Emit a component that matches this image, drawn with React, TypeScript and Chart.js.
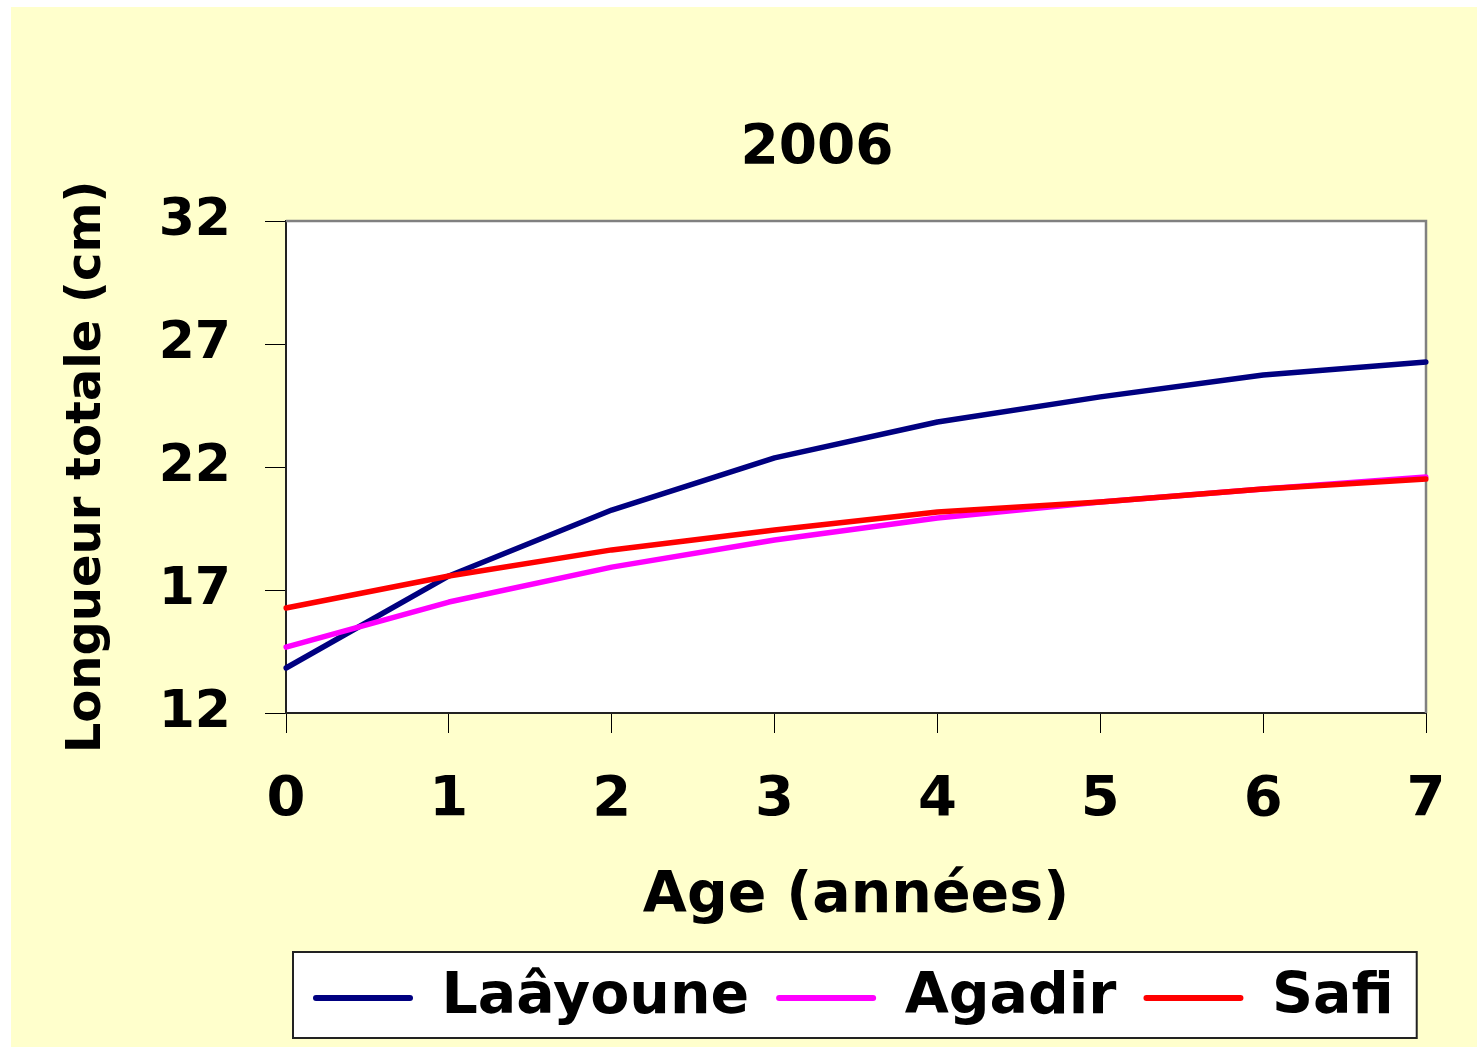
import React, { useEffect, useRef } from 'react';
import { Chart, registerables } from 'chart.js';

Chart.register(...registerables);

// ---- data ----
const ages = ['0', '1', '2', '3', '4', '5', '6', '7'];
const laayoune = [13.83, 17.57, 20.25, 22.37, 23.83, 24.85, 25.74, 26.27];
const agadir = [14.68, 16.51, 17.93, 19.03, 19.93, 20.58, 21.11, 21.59];
const safi = [16.27, 17.57, 18.63, 19.44, 20.17, 20.58, 21.11, 21.51];
const seriesNames = ['Laâyoune', 'Agadir', 'Safi'];
const seriesColors = ['#000080', '#FF00FF', '#FF0000'];
const yMin = 12;
const yMax = 32;
const yStep = 5;
const chartTitle = '2006';
const xTitle = 'Age (années)';
const yTitle = 'Longueur totale (cm)';

const FONT = "'DejaVu Sans', 'Liberation Sans', sans-serif";

const decorPlugin = {
  id: 'decor',
  beforeDraw(chart: any) {
    const { ctx, chartArea } = chart;
    ctx.save();
    ctx.fillStyle = '#FFFFFF';
    ctx.fillRect(chartArea.left, chartArea.top, chartArea.right - chartArea.left, chartArea.bottom - chartArea.top);
    const lg = chart.legend;
    if (lg && lg.legendHitBoxes && lg.legendHitBoxes.length) {
      const hb = lg.legendHitBoxes;
      const first = hb[0];
      const last = hb[hb.length - 1];
      const left = first.left - 20;
      const right = last.left + last.width + 23;
      const mid = first.top + first.height / 2;
      const top = mid - 46;
      const bottom = mid + 40;
      ctx.fillStyle = '#FFFFFF';
      ctx.fillRect(left, top, right - left, bottom - top);
      ctx.strokeStyle = '#222222';
      ctx.lineWidth = 2;
      ctx.strokeRect(left, top, right - left, bottom - top);
    }
    ctx.restore();
  },
  beforeDatasetsDraw(chart: any) {
    const { ctx, chartArea } = chart;
    ctx.save();
    ctx.strokeStyle = '#808080';
    ctx.lineWidth = 2.5;
    ctx.beginPath();
    ctx.moveTo(chartArea.left, chartArea.top);
    ctx.lineTo(chartArea.right, chartArea.top);
    ctx.lineTo(chartArea.right, chartArea.bottom);
    ctx.stroke();
    ctx.restore();
  },
};

export default function App() {
  const canvasRef = useRef<HTMLCanvasElement | null>(null);

  useEffect(() => {
    const canvas = canvasRef.current;
    if (!canvas) return;
    const seriesData = [laayoune, agadir, safi];
    const chart = new Chart(canvas, {
      type: 'line',
      data: {
        labels: ages,
        datasets: seriesData.map((d, i) => ({
          label: seriesNames[i],
          data: d,
          borderColor: seriesColors[i],
          backgroundColor: seriesColors[i],
          borderWidth: 5.5,
          pointRadius: 0,
          pointHoverRadius: 0,
          tension: 0,
          fill: false,
          borderCapStyle: 'round',
          borderJoinStyle: 'round',
          order: 3 - i,
          yAxisID: 'y',
        })),
      },
      options: {
        responsive: false,
        animation: false,
        devicePixelRatio: 1,
        layout: { padding: { left: 30, top: 0, right: 0, bottom: 10.5 } },
        plugins: {
          tooltip: { enabled: false },
          title: {
            display: true,
            text: chartTitle,
            color: '#000',
            font: { family: FONT, size: 55, weight: 'bold' },
            padding: { top: 109, bottom: 39 },
          },
          legend: {
            display: true,
            position: 'bottom',
            align: 'start',
            fullSize: false,
            labels: {
              color: '#000',
              font: { family: FONT, size: 57, weight: 'bold' },
              boxWidth: 100,
              boxHeight: 6,
              padding: 27,
              useBorderRadius: true,
              borderRadius: 3,
              sort: (a: any, b: any) => a.datasetIndex - b.datasetIndex,
              generateLabels: (ch: any) =>
                (Chart.defaults.plugins.legend.labels as any)
                  .generateLabels(ch)
                  .map((l: any) => ({ ...l, lineWidth: 0, fillStyle: l.strokeStyle })),
            },
          },
        },
        scales: {
          x: {
            type: 'category',
            offset: false,
            afterFit: (s: any) => { s.height = 229.5; },
            grid: {
              display: true,
              drawOnChartArea: false,
              drawTicks: true,
              tickLength: 20,
              color: '#000',
              lineWidth: 1,
            },
            border: { display: true, color: '#222', width: 2 },
            ticks: {
              color: '#000',
              font: { family: FONT, size: 56, weight: 'bold' },
              padding: 34,
              autoSkip: false,
              maxRotation: 0,
            },
            title: {
              display: true,
              text: xTitle,
              color: '#000',
              font: { family: FONT, size: 57, weight: 'bold' },
              padding: { top: 0, bottom: 11.3 },
            },
          },
          y: {
            type: 'linear',
            position: 'left',
            min: yMin,
            max: yMax,
            afterFit: (s: any) => { s.width = 245; },
            grid: {
              display: true,
              drawOnChartArea: false,
              drawTicks: true,
              tickLength: 21,
              color: '#000',
              lineWidth: 1,
            },
            border: { display: true, color: '#222', width: 2 },
            ticks: {
              stepSize: yStep,
              color: '#000',
              font: { family: FONT, size: 52, weight: 'bold' },
              padding: 34,
            },
            title: {
              display: true,
              text: yTitle,
              color: '#000',
              font: { family: FONT, size: 48, weight: 'bold' },
              padding: { top: 18, bottom: 0 },
            },
          },
          yRight: {
            type: 'linear',
            axis: 'y',
            position: 'right',
            display: true,
            afterFit: (s: any) => { s.width = 167; },
            grid: { display: false, drawTicks: false },
            border: { display: false },
            ticks: { display: false },
          },
        },
      } as any,
      plugins: [decorPlugin],
    });
    return () => chart.destroy();
  }, []);

  return (
    <div style={{ position: 'absolute', left: 0, top: 0, width: 1477, height: 1047, background: '#FFFFFF' }}>
      <div
        style={{
          position: 'absolute',
          left: 11,
          top: 7,
          width: 1466,
          height: 1040,
          background: '#FFFFCC',
          overflow: 'hidden',
        }}
      >
        <canvas ref={canvasRef} width={1582} height={1040} style={{ display: 'block', width: 1582, height: 1040 }} />
      </div>
    </div>
  );
}
